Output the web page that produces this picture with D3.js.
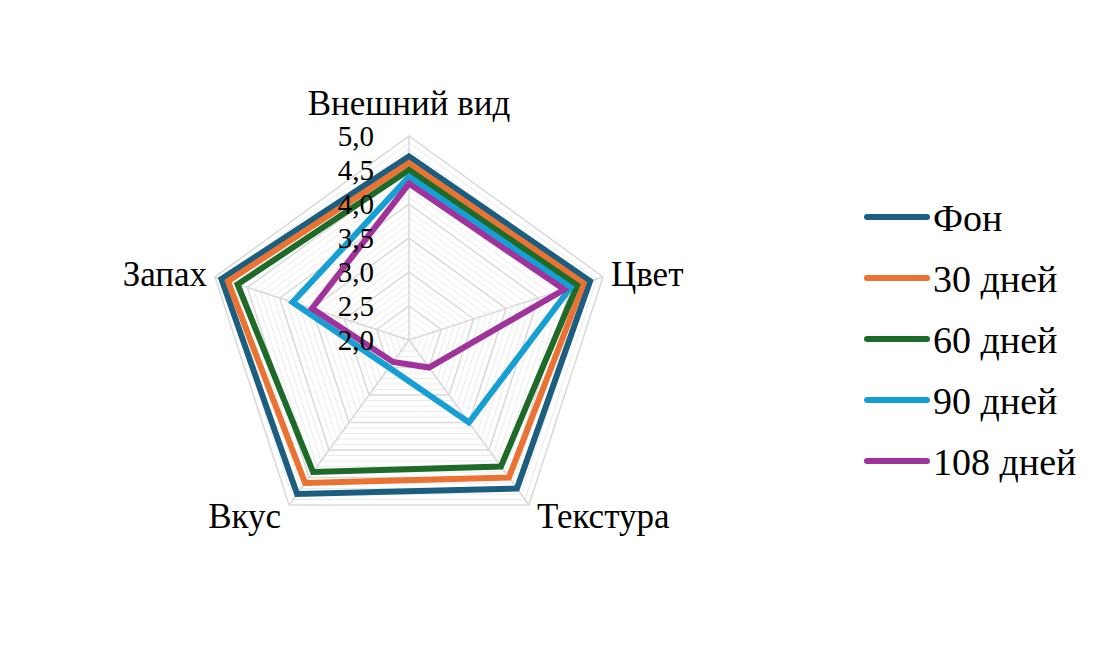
<!DOCTYPE html>
<html>
<head>
<meta charset="utf-8">
<script src="https://cdn.jsdelivr.net/npm/d3@7"></script>
<style>
  body { margin: 0; background: #fff; }
  text { font-family: "Liberation Serif", "Times New Roman", serif; fill: #000; }
</style>
</head>
<body>
<div id="container"></div>
<script>
const axes = ['Внешний вид', 'Цвет', 'Текстура', 'Вкус', 'Запах'];
const seriesNames = ['Фон', '30 дней', '60 дней', '90 дней', '108 дней'];
const fon = [4.7, 4.8, 4.7, 4.8, 4.9];
const days30 = [4.6, 4.7, 4.5, 4.6, 4.8];
const days60 = [4.5, 4.6, 4.3, 4.4, 4.65];
const days90 = [4.4, 4.5, 3.5, 2.5, 3.8];
const days108 = [4.3, 4.4, 2.5, 2.4, 3.5];
const colours = ['#1b5e80', '#ea7232', '#1e6b29', '#169fd4', '#9f329b'];
const ticks = [2.0, 2.5, 3.0, 3.5, 4.0, 4.5, 5.0];

const series = [fon, days30, days60, days90, days108];

const width = 1102, height = 645;
const cx = 409, cy = 340;

const svg = d3.select('#container').append('svg')
  .attr('width', width)
  .attr('height', height);

svg.append('rect').attr('width', width).attr('height', height).attr('fill', '#fff');

const r = d3.scaleLinear().domain([2, 5]).range([0, 204]);
const angle = d3.scalePoint().domain(axes.concat(['_end'])).range([0, 2 * Math.PI]);
const fmt = d3.formatLocale({ decimal: ',', thousands: ' ', grouping: [3], currency: ['', ''] }).format('.1f');

const g = svg.append('g').attr('transform', `translate(${cx}, ${cy})`);

const ring = d3.lineRadial()
  .angle((d) => angle(d.axis))
  .radius((d) => r(d.value))
  .curve(d3.curveLinearClosed);

// minor rings every 0.1
const minor = d3.range(21, 50).map((v) => v / 10).filter((v) => Math.round(v * 10) % 5 !== 0);
g.append('g').selectAll('path')
  .data(minor).enter()
  .append('path')
  .attr('d', (v) => ring(axes.map((a) => ({ axis: a, value: v }))))
  .attr('fill', 'none')
  .attr('stroke', '#ebebeb')
  .attr('stroke-width', 1);

// major rings
g.append('g').selectAll('path')
  .data(ticks.slice(1)).enter()
  .append('path')
  .attr('d', (v) => ring(axes.map((a) => ({ axis: a, value: v }))))
  .attr('fill', 'none')
  .attr('stroke', '#d9d9d9')
  .attr('stroke-width', 1.5);

// spokes
g.append('g').selectAll('line')
  .data(axes).enter()
  .append('line')
  .attr('x1', 0).attr('y1', 0)
  .attr('x2', (a) => r(5) * Math.sin(angle(a)))
  .attr('y2', (a) => -r(5) * Math.cos(angle(a)))
  .attr('stroke', '#d9d9d9')
  .attr('stroke-width', 1.5);

// series lines
g.append('g').selectAll('path')
  .data(series).enter()
  .append('path')
  .attr('d', (s) => ring(s.map((v, i) => ({ axis: axes[i], value: v }))))
  .attr('fill', 'none')
  .attr('stroke', (s, i) => colours[i])
  .attr('stroke-width', 6)
  .attr('stroke-linejoin', 'miter');

// tick labels
g.append('g').selectAll('text')
  .data(ticks).enter()
  .append('text')
  .attr('x', -35)
  .attr('y', (v) => -r(v))
  .attr('text-anchor', 'end')
  .attr('dominant-baseline', 'central')
  .style('font-size', '29px')
  .text((v) => fmt(v));

// axis labels
const labelPad = 8;
g.append('g').selectAll('text')
  .data(axes).enter()
  .append('text')
  .attr('x', (a) => {
    const s = Math.sin(angle(a));
    return r(5) * s + (Math.abs(s) < 0.01 ? 0 : Math.sign(s) * labelPad);
  })
  .attr('y', (a) => {
    const c = Math.cos(angle(a));
    if (c > 0.9) return -r(5) - 33;
    if (c < 0) return -r(5) * c + 11;
    return -r(5) * c - 2;
  })
  .attr('text-anchor', (a) => {
    const s = Math.sin(angle(a));
    return Math.abs(s) < 0.01 ? 'middle' : (s > 0 ? 'start' : 'end');
  })
  .attr('dominant-baseline', 'central')
  .style('font-size', '35px')
  .text((a) => a);

// legend
const legendY = d3.scalePoint().domain(seriesNames).range([217, 461]);
const legend = svg.append('g');
legend.selectAll('line')
  .data(seriesNames).enter()
  .append('line')
  .attr('x1', 867).attr('x2', 927)
  .attr('y1', (d) => legendY(d)).attr('y2', (d) => legendY(d))
  .attr('stroke', (d, i) => colours[i])
  .attr('stroke-width', 6)
  .attr('stroke-linecap', 'round');
legend.selectAll('text')
  .data(seriesNames).enter()
  .append('text')
  .attr('x', 933)
  .attr('y', (d) => legendY(d) + 1)
  .attr('dominant-baseline', 'central')
  .style('font-size', '38px')
  .text((d) => d);
</script>
</body>
</html>
